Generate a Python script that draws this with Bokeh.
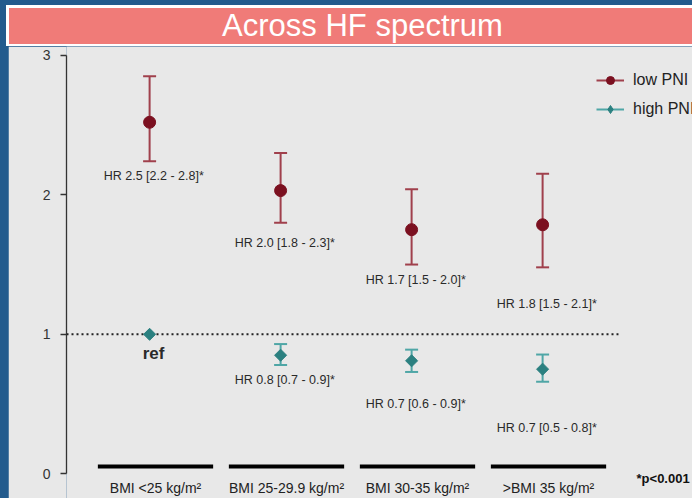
import math
from bokeh.plotting import figure
from bokeh.models import (Range1d, LinearAxis, FixedTicker, Legend, LegendItem,
                          Div, ColumnDataSource)
from bokeh.layouts import column
from bokeh.embed import file_html
from bokeh.resources import INLINE
from bokeh.core.properties import value

nan = float("nan")

# ---------------- data ----------------
categories = ["BMI <25 kg/m\u00b2", "BMI 25-29.9 kg/m\u00b2", "BMI 30-35 kg/m\u00b2", ">BMI 35 kg/m\u00b2"]
cat_pos = [1, 2, 3, 4]

low_hr = [2.52, 2.03, 1.75, 1.785]
low_lower = [2.24, 1.80, 1.50, 1.48]
low_upper = [2.85, 2.30, 2.04, 2.15]

high_hr = [1.0, 0.85, 0.81, 0.75]
high_lower = [nan, 0.78, 0.73, 0.66]
high_upper = [nan, 0.93, 0.89, 0.855]

low_labels = ["HR  2.5 [2.2 - 2.8]*", "HR  2.0 [1.8 - 2.3]*", "HR  1.7 [1.5 - 2.0]*", "HR  1.8 [1.5 - 2.1]*"]
high_labels = ["", "HR  0.8 [0.7 - 0.9]*", "HR  0.7 [0.6 - 0.9]*", "HR  0.7 [0.5 - 0.8]*"]

y_ticks = [0, 1, 2, 3]

# ---------------- layout constants ----------------
FONT = "Liberation Sans"
BLUE = "#235b8d"
BG = "#e8e8e8"
LOW_DOT = "#7b1020"
LOW_BAR = "#a0404c"
HIGH_DOT = "#2b8080"
HIGH_BAR = "#4fa6a6"
OFF = -0.045                     # marker offset from category centre
low_label_y = [2.138, 1.651, 1.386, 1.214]
high_label_y = [nan, 0.676, 0.497, 0.325]
BRACKET_Y = 0.052
CAT_LABEL_Y = -0.105
NOTE_Y = -0.033

title_html = ('<div style="display:block;width:686px;margin:5px 0 0 6px;height:41px;'
              'box-sizing:border-box;'
              'border-top:3px solid white;border-left:3px solid white;'
              'border-bottom:2px solid white;background:#F07B78;color:white;'
              "font-family:'Liberation Sans',Arial,sans-serif;font-size:31px;"
              'line-height:35px;text-align:center;padding-left:24px;'
              'white-space:nowrap;overflow:hidden">Across HF spectrum</div>')
title = Div(text=title_html, width=692, height=46, margin=0,
            styles={"background-color": BLUE})

p = figure(width=684, height=452, margin=(0, 0, 0, 8),
           x_range=Range1d(0.3206, 5.0992), y_range=Range1d(-0.177, 3.063),
           x_axis_type=None, y_axis_type=None,
           output_backend="svg", toolbar_location=None,
           min_border_left=58, min_border_right=0, min_border_top=0, min_border_bottom=0,
           background_fill_color=BG, border_fill_color=BG, outline_line_color=None)

# y axis
yaxis = LinearAxis(bounds=(0, 3), ticker=FixedTicker(ticks=y_ticks),
                   axis_line_color="#333333", axis_line_width=1.3,
                   major_tick_line_color="#333333", major_tick_line_width=1.3,
                   major_tick_out=6, major_tick_in=0,
                   minor_tick_line_color=None,
                   major_label_standoff=10,
                   major_label_text_font=FONT, major_label_text_font_size="14px",
                   major_label_text_color="#333333")
p.add_layout(yaxis, "left")

# category brackets and labels
HALF = 0.44
p.segment(x0=[c - HALF for c in cat_pos], x1=[c + HALF for c in cat_pos],
          y0=[BRACKET_Y] * len(cat_pos), y1=[BRACKET_Y] * len(cat_pos),
          line_color="black", line_width=4)
p.text(x=cat_pos, y=[CAT_LABEL_Y] * len(cat_pos), text=categories,
       text_font=value(FONT), text_font_size="14px", text_align="center",
       text_baseline="middle", text_color="#222222")

# reference dotted line at HR = 1
p.segment(x0=[0.3206], x1=[4.534], y0=[1], y1=[1],
          line_color="#222222", line_width=2, line_dash="2 3")

# low PNI
low_src = ColumnDataSource(dict(x=[c + OFF for c in cat_pos], hr=low_hr,
                                lo=low_lower, hi=low_upper))
low_stem = p.segment(x0="x", x1="x", y0="lo", y1="hi", source=low_src,
                     line_color=LOW_BAR, line_width=2)
p.scatter(x="x", y="lo", source=low_src, marker="dash", size=13,
          line_color=LOW_BAR, line_width=2)
p.scatter(x="x", y="hi", source=low_src, marker="dash", size=13,
          line_color=LOW_BAR, line_width=2)
low_dot = p.scatter(x="x", y="hr", source=low_src, marker="circle", size=12,
                    fill_color=LOW_DOT, line_color=LOW_DOT)

# high PNI
high_src = ColumnDataSource(dict(x=[c + OFF for c in cat_pos], hr=high_hr,
                                 lo=high_lower, hi=high_upper))
high_stem = p.segment(x0="x", x1="x", y0="lo", y1="hi", source=high_src,
                      line_color=HIGH_BAR, line_width=2)
p.scatter(x="x", y="lo", source=high_src, marker="dash", size=13,
          line_color=HIGH_BAR, line_width=2)
p.scatter(x="x", y="hi", source=high_src, marker="dash", size=13,
          line_color=HIGH_BAR, line_width=2)
p.scatter(x="x", y="hr", source=high_src, marker="square", size=8.5,
          angle=math.pi / 4, fill_color=HIGH_DOT, line_color=HIGH_DOT)
# legend-only diamond (no data drawn)
high_key = p.scatter(x=[nan], y=[nan], marker="diamond", size=12,
                     fill_color=HIGH_DOT, line_color=HIGH_DOT)

# HR labels
p.text(x=cat_pos, y=low_label_y, text=low_labels, text_font=value(FONT),
       text_font_size="12.5px", text_align="center", text_baseline="middle",
       text_color="#2a2a2a")
p.text(x=cat_pos, y=high_label_y, text=high_labels, text_font=value(FONT),
       text_font_size="12.5px", text_align="center", text_baseline="middle",
       text_color="#2a2a2a")
p.text(x=[cat_pos[0] - 0.015], y=[0.862], text=["ref"], text_font=value(FONT),
       text_font_size="17px", text_font_style="bold", text_align="center",
       text_baseline="middle", text_color="#2a2a2a")

# significance note
p.text(x=[4.672], y=[NOTE_Y], text=["*p<0.001"], text_font=value(FONT),
       text_font_size="13px", text_font_style="bold", text_align="left",
       text_baseline="middle", text_color="#111111")

# legend
legend = Legend(items=[LegendItem(label="low PNI", renderers=[low_stem, low_dot]),
                       LegendItem(label="high PNI", renderers=[high_stem, high_key])],
                location=(530, 379), orientation="vertical",
                padding=0, margin=0, spacing=9,
                glyph_width=28, glyph_height=20, label_height=20, label_standoff=9,
                label_text_font=FONT, label_text_font_size="16px",
                label_text_color="#222222",
                background_fill_alpha=0, border_line_color=None)
p.add_layout(legend, "center")

layout = column(title, p, styles={"background-color": BLUE})
open("out.html", "w").write(file_html(layout, INLINE))
